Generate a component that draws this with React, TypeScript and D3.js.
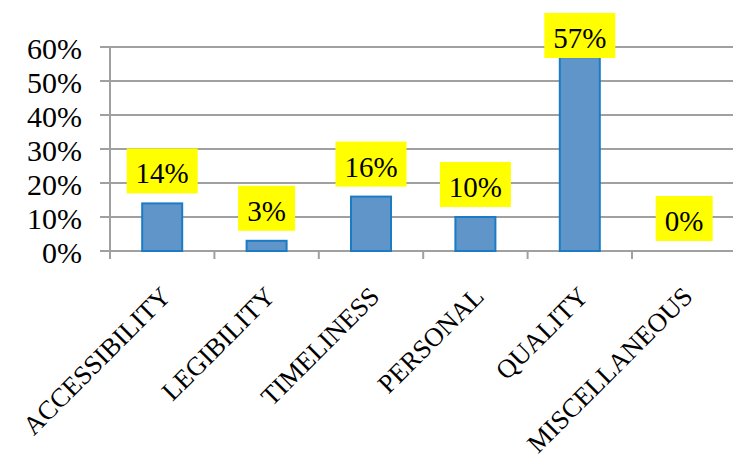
import React from "react";
import * as d3 from "d3";

const categories = ["ACCESSIBILITY", "LEGIBILITY", "TIMELINESS", "PERSONAL", "QUALITY", "MISCELLANEOUS"];
const values = [14, 3, 16, 10, 57, 0];
const yTicks = [0, 10, 20, 30, 40, 50, 60];

const W = 733;
const H = 459;
const FONT = "Liberation Serif, Times New Roman, serif";

export default function App() {
  const x0 = 110;
  const bandW = 104.4;
  const x = d3
    .scaleBand<string>()
    .domain(categories)
    .range([x0, x0 + bandW * categories.length])
    .paddingInner(0)
    .paddingOuter(0);
  const y = d3.scaleLinear().domain([0, 60]).range([251, 47]);
  const barW = 40;
  const boxH = 45;

  return (
    <svg width={W} height={H} style={{ position: "absolute", left: 0, top: 0 }}>
      <rect width={W} height={H} fill="#fff" />
      {yTicks.map((t) => (
        <g key={t}>
          <line x1={100} x2={W} y1={y(t)} y2={y(t)} stroke="#a0a0a0" strokeWidth={2} />
          <text x={82} y={y(t) + 12} textAnchor="end" style={{ fontFamily: FONT }} fontSize={30} fill="#000">
            {t}%
          </text>
        </g>
      ))}
      <line x1={x0} x2={x0} y1={y(60)} y2={259} stroke="#a0a0a0" strokeWidth={2} />
      {categories.map((c) => (
        <line key={c} x1={(x(c) as number) + bandW} x2={(x(c) as number) + bandW} y1={y(0)} y2={259} stroke="#a0a0a0" strokeWidth={2} />
      ))}
      {categories.map((c, i) => {
        const cx = (x(c) as number) + bandW / 2;
        const v = values[i];
        return (
          <g key={c}>
            {v > 0 && (
              <rect
                x={cx - barW / 2}
                y={y(v)}
                width={barW}
                height={y(0) - y(v)}
                fill="#5f95c8"
                stroke="#1b7cc5"
                strokeWidth={2}
              />
            )}
          </g>
        );
      })}
      {categories.map((c, i) => {
        const cx = (x(c) as number) + bandW / 2;
        const v = values[i];
        const label = `${v}%`;
        const bw = label.length === 2 ? 57 : 71;
        const top = Math.max(13, y(v) - 10 - boxH);
        return (
          <g key={c + "l"}>
            <rect x={cx - bw / 2} y={top} width={bw} height={boxH} fill="#ffff00" />
            <text x={cx} y={top + 35} textAnchor="middle" style={{ fontFamily: FONT }} fontSize={29} fill="#000">
              {label}
            </text>
          </g>
        );
      })}
      {categories.map((c) => {
        const cx = (x(c) as number) + bandW / 2;
        return (
          <text
            key={c + "x"}
            transform={`translate(${cx + 10},${298}) rotate(-45)`}
            textAnchor="end"
            style={{ fontFamily: FONT }}
            fontSize={26.5}
            fill="#000"
          >
            {c}
          </text>
        );
      })}
    </svg>
  );
}
